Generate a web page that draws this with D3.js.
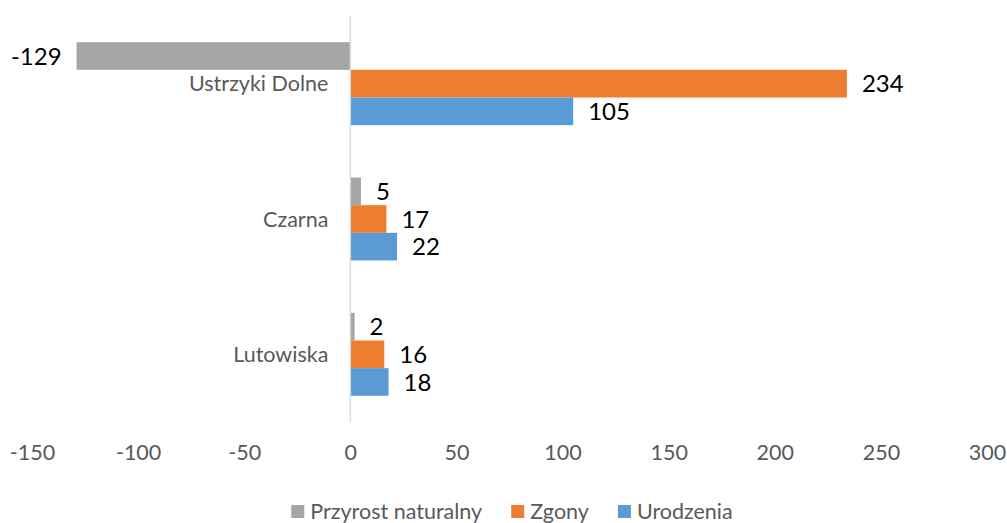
<!DOCTYPE html>
<html>
<head>
<meta charset="utf-8">
<script src="https://cdn.jsdelivr.net/npm/d3@7"></script>
<style>
  body { margin: 0; background: #fff; }
  svg { font-family: Lato, "Open Sans", sans-serif; }
</style>
</head>
<body>
<svg width="1007" height="523"></svg>
<script>
// categories, top to bottom
var categories = ['Ustrzyki Dolne', 'Czarna', 'Lutowiska'];
// series, top to bottom inside each group
var seriesNames = ['Przyrost naturalny', 'Zgony', 'Urodzenia'];
var przyrost = [-129, 5, 2];
var zgony = [234, 17, 16];
var urodzenia = [105, 22, 18];
var tickValues = [-150, -100, -50, 0, 50, 100, 150, 200, 250, 300];

var colors = d3.scaleOrdinal()
  .domain(seriesNames)
  .range(['#A5A5A5', '#ED7D31', '#5B9BD5']);

let svg = d3.select('svg');

let xScale = d3.scaleLinear().domain([-150, 300]).range([32, 987]);

let yScale = d3.scaleBand()
  .domain(categories)
  .range([16, 422])
  .paddingInner(0.387)
  .paddingOuter(0.1935);

let ySub = d3.scaleBand()
  .domain(seriesNames)
  .range([0, yScale.bandwidth()]);

// build rows from the arrays
var rows = [];
categories.forEach(function (c, i) {
  rows.push({ cat: c, name: seriesNames[0], value: przyrost[i] });
  rows.push({ cat: c, name: seriesNames[1], value: zgony[i] });
  rows.push({ cat: c, name: seriesNames[2], value: urodzenia[i] });
});

// x axis: labels only (plain hyphen for negatives)
let xAxis = svg.append('g')
  .attr('transform', 'translate(0,440)')
  .call(d3.axisBottom(xScale)
    .tickValues(tickValues)
    .tickFormat(function (d) { return String(d); })
    .tickSize(0)
    .tickPadding(0));
xAxis.select('.domain').remove();
xAxis.selectAll('text')
  .attr('dy', '0.71em')
  .attr('y', 5)
  .attr('fill', '#595959')
  .style('font-size', '21.5px')
  .style('font-family', 'Lato, sans-serif');

// bars
svg.append('g')
  .selectAll('rect')
  .data(rows)
  .enter()
  .append('rect')
  .attr('x', function (d) { return xScale(Math.min(0, d.value)); })
  .attr('y', function (d) { return yScale(d.cat) + ySub(d.name); })
  .attr('width', function (d) { return Math.abs(xScale(d.value) - xScale(0)); })
  .attr('height', ySub.bandwidth())
  .attr('fill', function (d) { return colors(d.name); });

// vertical axis line at zero
svg.append('line')
  .attr('x1', xScale(0)).attr('x2', xScale(0))
  .attr('y1', 16).attr('y2', 422)
  .attr('stroke', '#D9D9D9')
  .attr('stroke-width', 1.5);

// category labels
svg.append('g')
  .selectAll('text')
  .data(categories)
  .enter()
  .append('text')
  .attr('x', xScale(0) - 22)
  .attr('y', function (d) { return yScale(d) + yScale.bandwidth() / 2; })
  .attr('dy', '0.36em')
  .attr('text-anchor', 'end')
  .attr('fill', '#595959')
  .style('font-size', '21.5px')
  .text(function (d) { return d; });

// data labels
svg.append('g')
  .selectAll('text')
  .data(rows)
  .enter()
  .append('text')
  .attr('x', function (d) {
    return d.value < 0 ? xScale(d.value) - 15 : xScale(d.value) + 15;
  })
  .attr('y', function (d) { return yScale(d.cat) + ySub(d.name) + ySub.bandwidth() / 2; })
  .attr('dy', '0.36em')
  .attr('text-anchor', function (d) { return d.value < 0 ? 'end' : 'start'; })
  .attr('fill', '#000')
  .style('font-size', '24px')
  .text(function (d) { return d.value; });

// legend
let legend = svg.append('g');
let items = legend.selectAll('g')
  .data(seriesNames)
  .enter()
  .append('g');
items.append('rect')
  .attr('width', 13).attr('height', 13)
  .attr('y', 505)
  .attr('fill', function (d) { return colors(d); });
items.append('text')
  .attr('x', 19)
  .attr('y', 511)
  .attr('dy', '0.36em')
  .attr('fill', '#595959')
  .style('font-size', '21.5px')
  .text(function (d) { return d; });

let gap = 29;
let offset = 0;
items.each(function () {
  let w = 19 + this.querySelector('text').getComputedTextLength();
  this.__x = offset;
  offset += w + gap;
});
let legendW = offset - gap;
let start = 512 - legendW / 2;
items.attr('transform', function () { return 'translate(' + (start + this.__x) + ',0)'; });
</script>
</body>
</html>
